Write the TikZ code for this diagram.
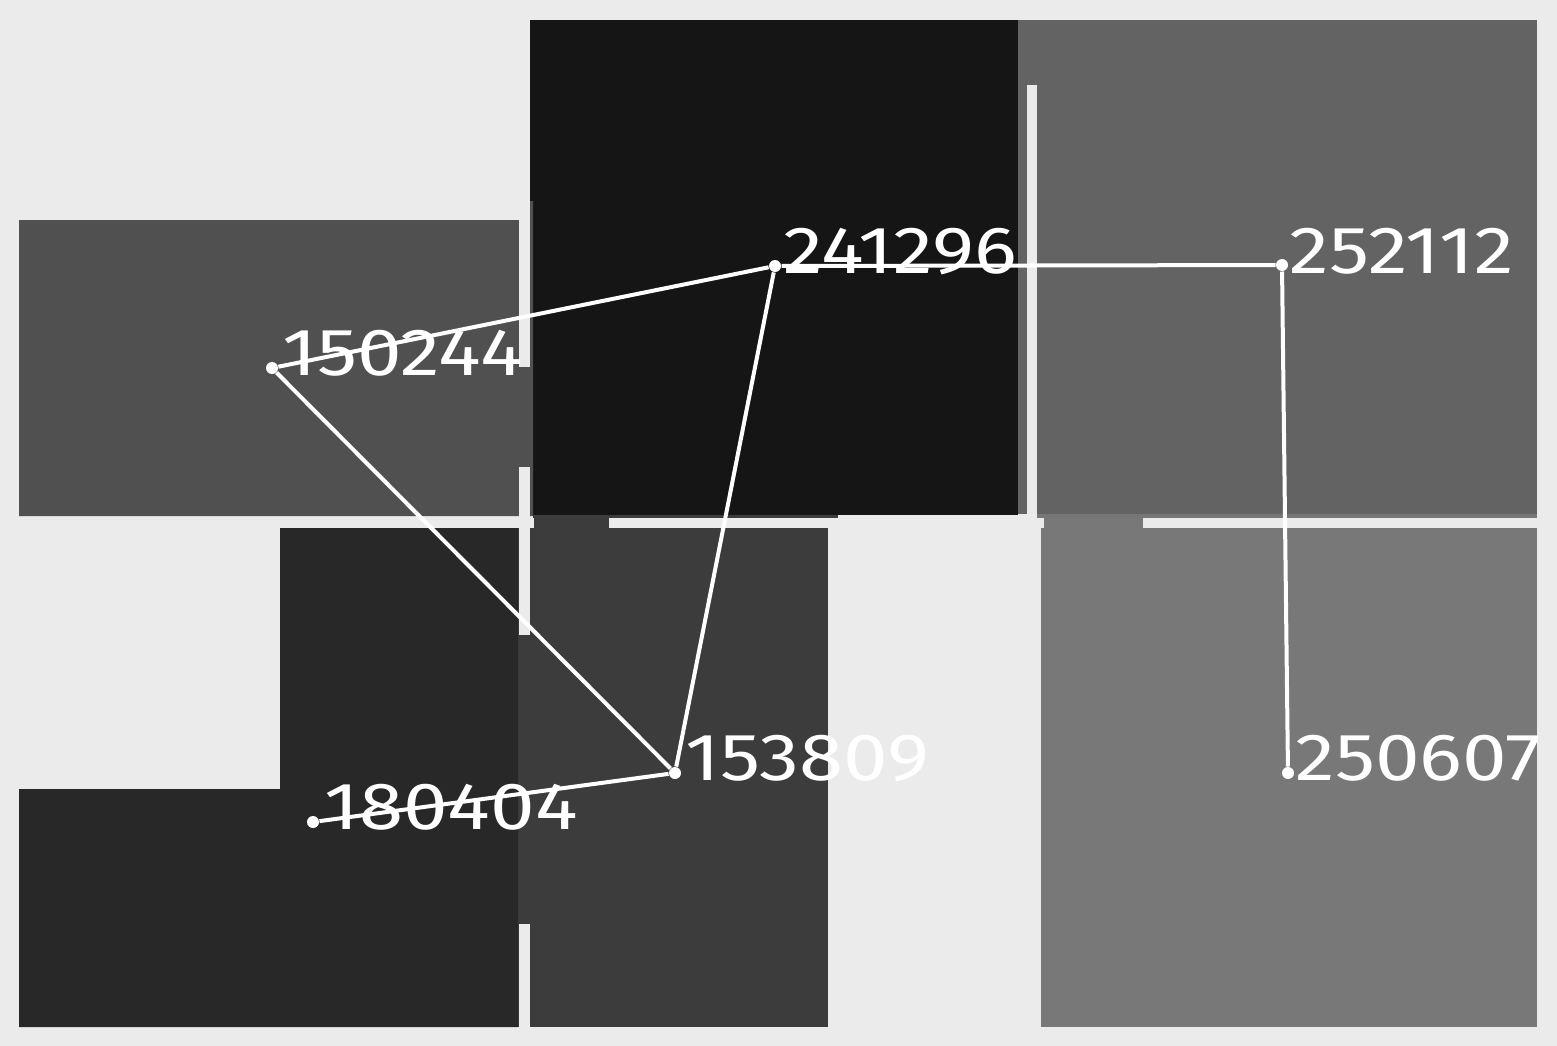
\documentclass[tikz,border=0pt]{standalone}
\usepackage{fontspec}
\newfontfamily\tagfont{Fira Sans}[FakeStretch=1.2]
\definecolor{bgc}{RGB}{235,235,235}
\definecolor{roomA}{RGB}{80,80,80}
\definecolor{roomB}{RGB}{21,21,21}
\definecolor{roomC}{RGB}{99,99,99}
\definecolor{roomD}{RGB}{120,120,120}
\definecolor{roomE}{RGB}{60,60,60}
\definecolor{roomF}{RGB}{40,40,40}
\tikzset{every picture/.style={line width=0.75pt}}
\tikzset{
  wall/.style={fill=bgc},
  vertex/.style={circle,fill=white,inner sep=0pt,minimum size=9pt},
  tag/.style={anchor=base west,inner sep=0pt,text=white,font=\tagfont\fontsize{50}{50}\selectfont},
  link/.style={draw=white,line width=3pt}
}
\begin{document}
\begin{tikzpicture}[x=0.75pt,y=0.75pt,yscale=-1,xscale=1]
\useasboundingbox [fill=bgc] (0,0) rectangle (1557,1046);

%Shape: Rectangle
\fill [roomB] (530,20) rectangle (1018,515);
%Shape: Rectangle
\fill [roomC] (1018,20) rectangle (1537,514);
%Shape: Polygon
\fill [roomA] (19,220) -- (519,220) -- (519,201) -- (533,201) -- (533,516) -- (19,516) -- cycle;
%Shape: Rectangle
\fill [roomD] (1041,514) rectangle (1537,1027);
\fill [roomD!90!roomC] (1037,514) rectangle (1537,518);
%Shape: Rectangle
\fill [roomE] (518,518) rectangle (828,1027);
\fill [roomE] (533,515) rectangle (838,518);
%Shape: Polygon
\fill [roomF] (280,528) -- (518,528) -- (518,1027) -- (19,1027) -- (19,789) -- (280,789) -- cycle;

%Walls
\fill [wall] (519,201) rectangle (530,367);
\fill [wall] (519,467) rectangle (530,635);
\fill [wall] (519,924) rectangle (530,1027);
\fill [wall] (268,518) rectangle (534,528);
\fill [wall] (609,518) rectangle (1044,528);
\fill [wall] (1143,518) rectangle (1537,528);
\fill [wall] (1027,85) rectangle (1037,518);

% Vertices
\node [vertex] (n150244) at (272,368) {};
\node [vertex] (n241296) at (775,266) {};
\node [vertex] (n252112) at (1282,265) {};
\node [vertex] (n153809) at (675,773) {};
\node [vertex] (n180404) at (313,822) {};
\node [vertex] (n250607) at (1288,773) {};

% Links
\draw [link] (n150244) -- (n241296);
\draw [link] (n241296) -- (n252112);
\draw [link] (n252112) -- (n250607);
\draw [link] (n241296) -- (n153809);
\draw [link] (n150244) -- (n153809);
\draw [link] (n180404) -- (n153809);

% Text Node
\node [tag] (t150244) at (282,375) {150244};
% Text Node
\node [tag] (t241296) at (783,273) {241296};
% Text Node
\node [tag] (t252112) at (1289,273) {252112};
% Text Node
\node [tag] (t153809) at (685,780) {153809};
% Text Node
\node [tag] (t180404) at (324,829) {180404};
% Text Node
\node [tag] (t250607) at (1295,780) {250607};
\end{tikzpicture}
\end{document}
